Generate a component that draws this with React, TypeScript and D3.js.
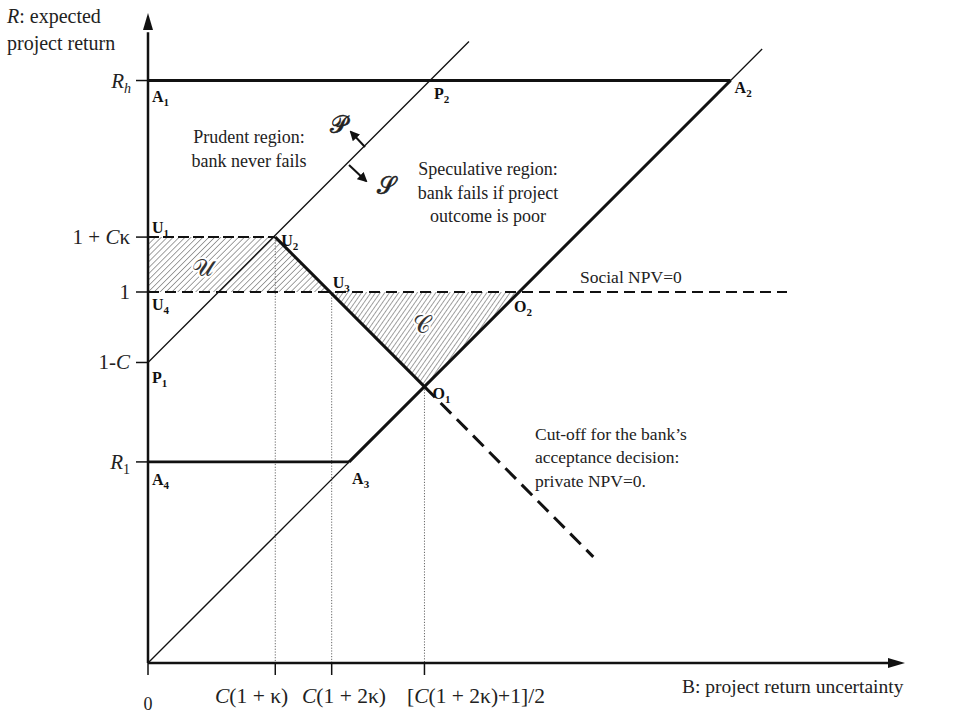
import React from "react";
import * as d3 from "d3";

const W = 954;
const H = 714;

// named points of the diagram (B across, R up)
const pointNames = ["O", "A1", "P2", "A2", "U1", "U2", "U3", "U4", "O2", "O1", "P1", "A4", "A3"];
const pointB = [0, 0, 0.76, 1.57, 0, 0.343, 0.495, 0, 1.0, 0.745, 0, 0, 0.542];
const pointR = [0, 1.57, 1.57, 1.57, 1.148, 1.148, 1.0, 1.0, 1.0, 0.745, 0.81, 0.542, 0.542];

// where the open lines stop
const endNames = ["diagEnd", "prudentEnd", "cutoffEnd", "npvEnd"];
const endB = [1.655, 0.865, 1.2, 1.722];
const endR = [1.655, 1.675, 0.286, 1.0];

// axis ticks
const yTickValues = [1.57, 1.148, 1.0, 0.81, 0.542];
const yTickLabels = ["R_h", "1 + Cκ", "1", "1-C", "R_1"];
const xTickValues = [0, 0.343, 0.495, 0.745];
const xTickLabels = ["0", "C(1 + κ)", "C(1 + 2κ)", "[C(1 + 2κ)+1]/2"];

const SERIF = "'Liberation Serif', 'DejaVu Serif', serif";

const lookup: Record<string, [number, number]> = {};
pointNames.forEach((n, i) => (lookup[n] = [pointB[i], pointR[i]]));
endNames.forEach((n, i) => (lookup[n] = [endB[i], endR[i]]));

// label offsets in px for each point label
const labelOffset: Record<string, [number, number]> = {
  A1: [4, 21], P2: [4, 18], A2: [4, 12], U1: [4, -4], U2: [6, 9], U3: [1, -4],
  U4: [4, 18], O2: [-5, 20], O1: [8, 12], P1: [4, 21], A4: [4, 23], A3: [3, 22],
};

// puts italic on C / R and turns _x into a subscript
function mathText(s: string, sub = 13) {
  const parts: React.ReactNode[] = [];
  let i = 0;
  let k = 0;
  while (i < s.length) {
    const ch = s[i];
    if (ch === "_") {
      const c = s[i + 1];
      parts.push(
        <tspan key={k++} fontSize={sub} dy={5} fontStyle={/[a-z]/.test(c) ? "italic" : "normal"}>{c}</tspan>
      );
      i += 2;
      continue;
    }
    if (ch === "C" || ch === "R") {
      parts.push(<tspan key={k++} fontStyle="italic">{ch}</tspan>);
    } else {
      parts.push(<tspan key={k++}>{ch}</tspan>);
    }
    i++;
  }
  return parts;
}

export default function App() {
  const x = d3.scaleLinear().domain([0, 2.04]).range([148, 905]);
  const y = d3.scaleLinear().domain([0, 1.752]).range([663, 13]);

  const px = (n: string) => x(lookup[n][0]);
  const py = (n: string) => y(lookup[n][1]);
  const line = d3.line<string>().x(px).y(py);

  const x0 = x(0);
  const y0 = y(0);

  const seg = (a: string, b: string, w: number, dash?: string, color = "#111") => (
    <path d={line([a, b]) || ""} stroke={color} strokeWidth={w} fill="none" strokeDasharray={dash} />
  );

  return (
    <svg width={W} height={H} style={{ display: "block", position: "absolute", left: 0, top: 0, background: "#fff" }}
      fontFamily={SERIF}>
      <defs>
        <pattern id="hatchU" patternUnits="userSpaceOnUse" width={4.2} height={4.2} patternTransform="rotate(45)">
          <line x1={0} y1={0} x2={0} y2={4.2} stroke="#555" strokeWidth={1.1} />
        </pattern>
        <pattern id="hatchC" patternUnits="userSpaceOnUse" width={3.8} height={3.8} patternTransform="rotate(35)">
          <line x1={0} y1={0} x2={0} y2={3.8} stroke="#555" strokeWidth={1.1} />
        </pattern>
        <marker id="arr" viewBox="0 0 10 10" refX={8} refY={5} markerWidth={5} markerHeight={5} orient="auto">
          <path d="M0,0 L10,5 L0,10 z" fill="#111" />
        </marker>
      </defs>

      {/* hatched regions */}
      <path d={(line(["U1", "U2", "U3", "U4"]) || "") + "Z"} fill="url(#hatchU)" />
      <path d={(line(["U3", "O2", "O1"]) || "") + "Z"} fill="url(#hatchC)" />

      {/* dotted guides down to the B axis */}
      {["U2", "U3", "O1"].map((n) => (
        <line key={n} x1={px(n)} x2={px(n)} y1={py(n)} y2={y0} stroke="#666" strokeWidth={1} strokeDasharray="1.2,1.6" />
      ))}

      {/* thin 45° lines */}
      {seg("O", "diagEnd", 1.3)}
      {seg("P1", "prudentEnd", 1.3)}

      {/* Social NPV = 0 and the U1-U2 line */}
      {seg("U4", "npvEnd", 2, "11,6")}
      {seg("U1", "U2", 2, "11,4")}

      {/* thick boundary */}
      {seg("A1", "A2", 2.8)}
      {seg("A4", "A3", 2.8)}
      {seg("A3", "A2", 3)}
      {seg("U2", "O1", 3)}
      {seg("O1", "cutoffEnd", 3, "15,8")}

      {/* axes */}
      <line x1={x0} y1={y0} x2={x0} y2={y(1.7)} stroke="#111" strokeWidth={2.5} />
      <path d={`M${x0},${y(1.752)} L${x0 - 5},${y(1.752) + 17} L${x0 + 5},${y(1.752) + 17} Z`} fill="#111" />
      <line x1={x0} y1={y0} x2={x(2.0)} y2={y0} stroke="#111" strokeWidth={2.5} />
      <path d={`M${x(2.04)},${y0} L${x(2.04) - 17},${y0 - 5} L${x(2.04) - 17},${y0 + 5} Z`} fill="#111" />

      {/* y ticks */}
      {yTickValues.map((v, i) => (
        <g key={"yt" + i}>
          <line x1={x0 - 12} x2={x0} y1={y(v)} y2={y(v)} stroke="#111" strokeWidth={1.5} />
          <text x={i === 0 ? 131 : x0 - 18} y={y(v) + 7} textAnchor="end" fontSize={21} fill="#222">
            {mathText(yTickLabels[i], 14)}
          </text>
        </g>
      ))}

      {/* x ticks */}
      {xTickValues.map((v, i) => (
        <g key={"xt" + i}>
          <line x1={x(v)} x2={x(v)} y1={y0} y2={y0 + 12} stroke="#111" strokeWidth={1.5} />
        </g>
      ))}
      <text x={x(0)} y={710} textAnchor="middle" fontSize={18} fill="#222">{xTickLabels[0]}</text>
      <text x={215} y={703} fontSize={21.5} fill="#222">{mathText(xTickLabels[1])}</text>
      <text x={302} y={703} fontSize={21.5} fill="#222">{mathText(xTickLabels[2])}</text>
      <text x={407} y={703} fontSize={21.5} fill="#222">{mathText(xTickLabels[3])}</text>

      {/* axis titles */}
      <text x={7} y={23} fontSize={20} fill="#222">
        <tspan fontStyle="italic">R</tspan>: expected
      </text>
      <text x={7} y={50} fontSize={20} fill="#222">project return</text>
      <text x={682} y={693} fontSize={19.5} fill="#222">B: project return uncertainty</text>

      {/* point labels */}
      {pointNames.filter((n) => labelOffset[n]).map((n) => (
        <text key={n} x={px(n) + labelOffset[n][0]} y={py(n) + labelOffset[n][1]} fontSize={16} fontWeight="bold" fill="#111">
          {n[0]}
          <tspan fontSize={11} dy={4}>{n.slice(1)}</tspan>
        </text>
      ))}

      {/* region notes */}
      <text x={249} y={143} textAnchor="middle" fontSize={18} fill="#222">Prudent region:</text>
      <text x={249} y={167} textAnchor="middle" fontSize={18} fill="#222">bank never fails</text>
      <text x={488} y={175} textAnchor="middle" fontSize={18} fill="#222">Speculative region:</text>
      <text x={488} y={199} textAnchor="middle" fontSize={18} fill="#222">bank fails if project</text>
      <text x={488} y={222} textAnchor="middle" fontSize={18} fill="#222">outcome is poor</text>
      <text x={580} y={283} fontSize={17.5} fill="#222">Social NPV=0</text>
      <text x={535} y={440} fontSize={17.5} fill="#222">Cut-off for the bank’s</text>
      <text x={535} y={463} fontSize={17.5} fill="#222">acceptance decision:</text>
      <text x={535} y={487} fontSize={17.5} fill="#222">private NPV=0.</text>

      {/* script letters and the arrows across the prudent line */}
      <line x1={365} y1={147} x2={351} y2={132} stroke="#111" strokeWidth={2} markerEnd="url(#arr)" />
      <line x1={349} y1={165} x2={366} y2={181} stroke="#111" strokeWidth={2} markerEnd="url(#arr)" />
      <text x={338} y={133} textAnchor="middle" fontSize={24} fill="#222" stroke="#222" strokeWidth={0.6}>𝒫</text>
      <text x={386} y={194} textAnchor="middle" fontSize={24} fill="#222" stroke="#222" strokeWidth={0.6}>𝒮</text>
      <text x={203} y={276} textAnchor="middle" fontSize={24} fill="#333"
        stroke="#fff" strokeWidth={4} paintOrder="stroke">𝒰</text>
      <text x={422} y={333} textAnchor="middle" fontSize={24} fill="#333"
        stroke="#fff" strokeWidth={4} paintOrder="stroke">𝒞</text>
    </svg>
  );
}
